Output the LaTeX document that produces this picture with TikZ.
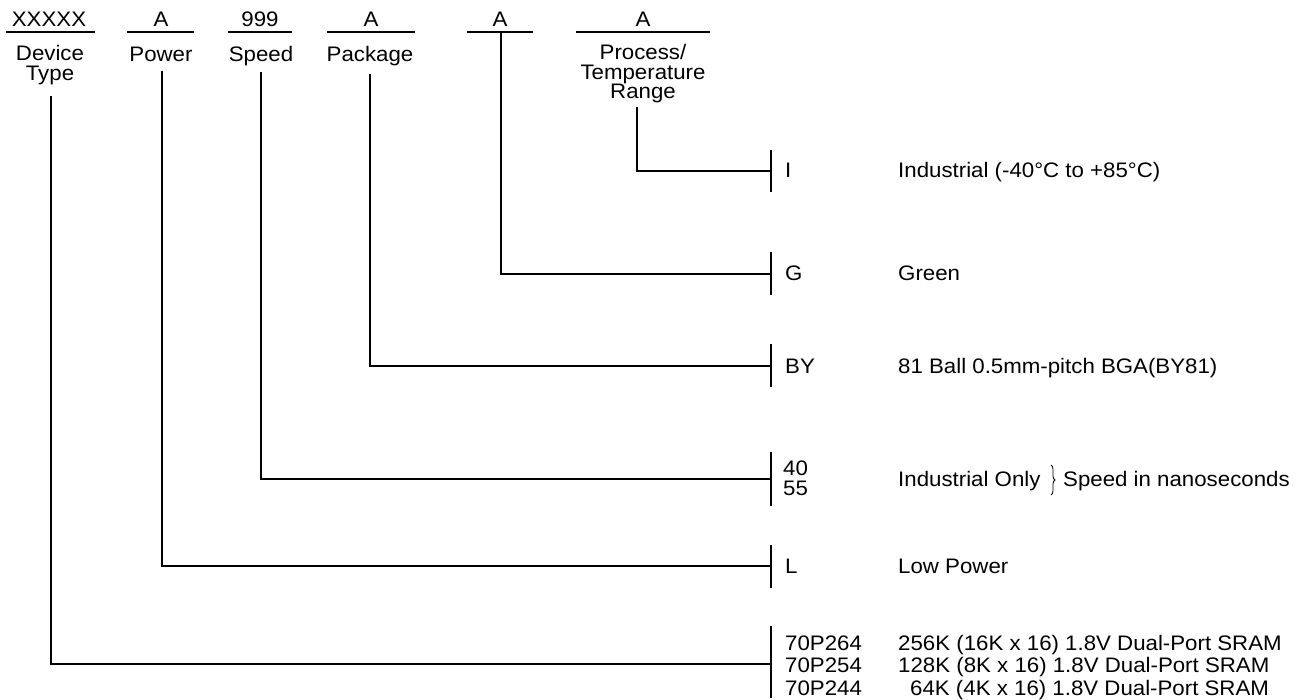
\documentclass[tikz,border=0pt]{standalone}
\usepackage{fontspec}
\setmainfont{Liberation Sans}[FakeStretch=1.06]
\usetikzlibrary{decorations.pathreplacing}
\begin{document}
\begin{tikzpicture}[x=1pt,y=-1pt,
  lbl/.style={inner sep=0pt,font=\fontsize{21}{21}\selectfont},
  ctr/.style={lbl,anchor=base},
  lft/.style={lbl,anchor=base west},
  ln/.style={line width=1.2pt,line cap=rect},
  bar/.style={line width=1.2pt}]
\useasboundingbox (0,0) rectangle (1308,700);
% top fields
\node[ctr] (f1) at (49,27) {XXXXX};
\node[ctr] (f2) at (161,27) {A};
\node[ctr] (f3) at (260,27) {999};
\node[ctr] (f4) at (371,27) {A};
\node[ctr] (f5) at (500,27) {A};
\node[ctr] (f6) at (643,27) {A};
\coordinate (u1a) at (6,32);   \coordinate (u1b) at (95,32);
\coordinate (u2a) at (127,32); \coordinate (u2b) at (194,32);
\coordinate (u3a) at (228,32); \coordinate (u3b) at (292,32);
\coordinate (u4a) at (327,32); \coordinate (u4b) at (415,32);
\coordinate (u5a) at (467,32); \coordinate (u5b) at (533,32);
\coordinate (u6a) at (576,32); \coordinate (u6b) at (710,32);
\foreach \i in {1,...,6} {\draw[bar] (u\i a) -- (u\i b);}
% field names
\node[ctr] (n1a) at (50,61) {Device};
\node[ctr] (n1b) at (50,81) {Type};
\node[ctr] (n2) at (161,62) {Power};
\node[ctr] (n3) at (261,62) {Speed};
\node[ctr] (n4) at (370,62) {Package};
\node[ctr] (n6a) at (643,60) {Process/};
\node[ctr] (n6b) at (643,79.5) {Temperature};
\node[ctr] (n6c) at (643,99) {Range};
% connector tops
\coordinate (t1) at (51,97);
\coordinate (t2) at (162,72);
\coordinate (t3) at (261,73);
\coordinate (t4) at (370,75);
\coordinate (t5) at (501,32);
\coordinate (t6) at (637,108);
% bar centres
\coordinate (b6) at (771,171);
\coordinate (b5) at (771,274);
\coordinate (b4) at (771,366);
\coordinate (b3) at (771,479);
\coordinate (b2) at (771,566);
\coordinate (b1) at (771,664);
% bars
\draw[bar] (771,150) -- (771,192);
\draw[bar] (771,252) -- (771,295);
\draw[bar] (771,344) -- (771,387);
\draw[bar] (771,452) -- (771,506);
\draw[bar] (771,545) -- (771,588);
\draw[bar] (771,626) -- (771,698);
% connectors
\draw[ln] (t1) |- (b1);
\draw[ln] (t2) |- (b2);
\draw[ln] (t3) |- (b3);
\draw[ln] (t4) |- (b4);
\draw[ln] (t5) |- (b5);
\draw[ln] (t6) |- (b6);
% codes
\node[lft] (cI) at (785,178) {I};
\node[lft] (cG) at (785,281) {G};
\node[lft] (cBY) at (785,373) {BY};
\node[lft] (c40) at (783,475) {40};
\node[lft] (c55) at (783,495) {55};
\node[lft] (cL) at (785,573) {L};
\node[lft] (c264) at (785,650) {70P264};
\node[lft] (c254) at (785,672) {70P254};
\node[lft] (c244) at (785,695) {70P244};
% descriptions
\node[lft] (dI) at (898,178) {Industrial (-40°C to +85°C)};
\node[lft] (dG) at (898,281) {Green};
\node[lft] (dBY) at (898,373) {81 Ball 0.5mm-pitch BGA(BY81)};
\node[lft] (d40) at (898,486) {Industrial Only};
\node[lft] (dsp) at (1063,486) {Speed in nanoseconds};
\node[lft] (dL) at (898,573) {Low Power};
\node[lft] (d264) at (898,650) {256K (16K x 16) 1.8V Dual-Port SRAM};
\node[lft] (d254) at (898,672) {128K (8K x 16) 1.8V Dual-Port SRAM};
\node[lft] (d244) at (910,695) {64K (4K x 16) 1.8V Dual-Port SRAM};
\coordinate (brt) at (1051,465);
\coordinate (brb) at (1051,495);
\draw[line width=0.8pt,decorate,decoration={brace,amplitude=4pt}] (brt) -- (brb);
\end{tikzpicture}
\end{document}
